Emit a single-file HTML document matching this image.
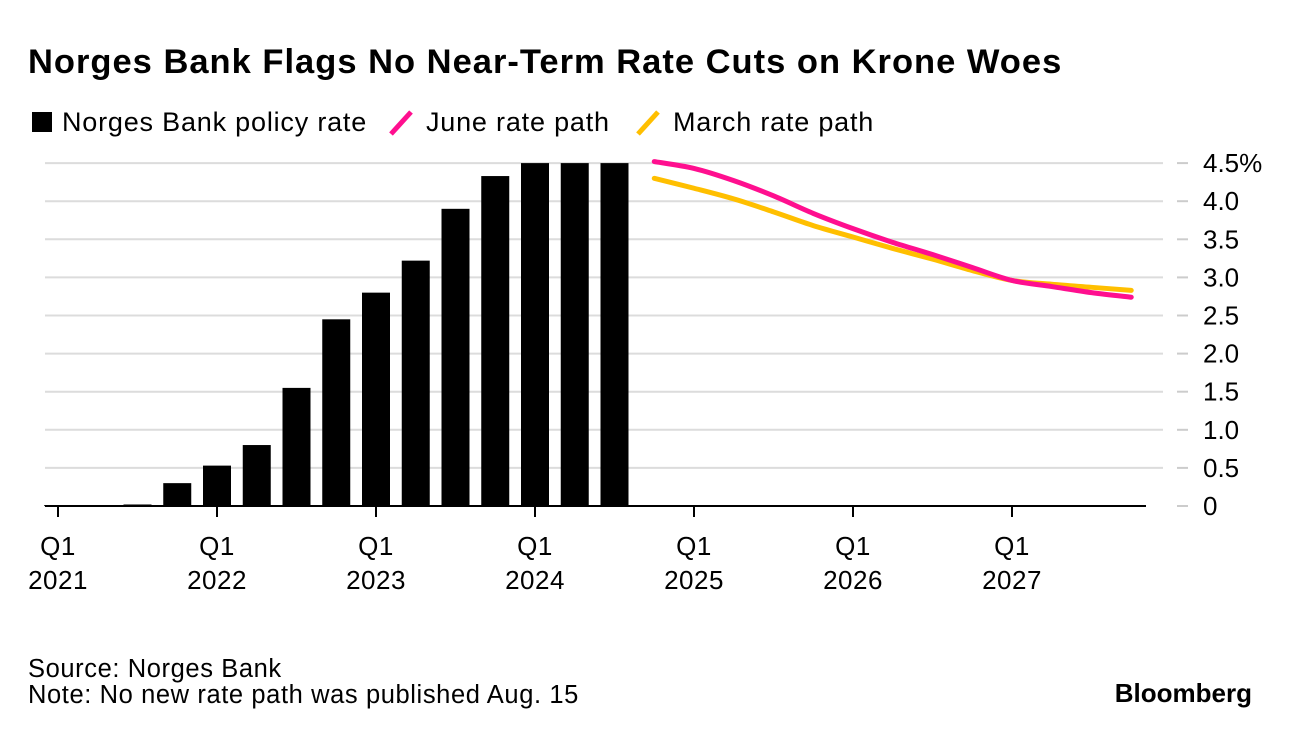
<!DOCTYPE html>
<html><head><meta charset="utf-8"><style>
body{margin:0;background:#fff;width:1292px;height:738px;overflow:hidden;font-family:"Liberation Sans",sans-serif;}
svg{position:absolute;left:0;top:0}
</style></head><body>
<svg width="1292" height="738">
<text x="28" y="73" font-size="34.5" font-weight="bold" letter-spacing="1" fill="#000">Norges Bank Flags No Near-Term Rate Cuts on Krone Woes</text>
<g font-size="27" letter-spacing="0.8" fill="#000">
<rect x="32" y="112" width="20" height="20" fill="#000"/>
<text x="62" y="131">Norges Bank policy rate</text>
<line x1="391" y1="134" x2="411" y2="112" stroke="#ff0f8f" stroke-width="5"/>
<text x="426" y="131">June rate path</text>
<line x1="638" y1="134" x2="658" y2="112" stroke="#ffbf00" stroke-width="5"/>
<text x="673" y="131">March rate path</text>
</g>
<g id="grid"></g><g id="bars"></g><g id="lines"></g><g id="axes"></g>
<text x="28" y="677" font-size="25.5" letter-spacing="0.6">Source: Norges Bank</text>
<text x="28" y="703" font-size="25.5" letter-spacing="0.6">Note: No new rate path was published Aug. 15</text>
<text x="1252" y="702" font-size="26" font-weight="bold" text-anchor="end">Bloomberg</text>
</svg>
<script>
const yTicks=[0,0.5,1,1.5,2,2.5,3,3.5,4,4.5];
const yTickLabels=["0","0.5","1.0","1.5","2.0","2.5","3.0","3.5","4.0","4.5%"];
const barValues=[0.01,0.01,0.02,0.3,0.53,0.8,1.55,2.45,2.8,3.22,3.9,4.33,4.5,4.5,4.5];
const juneValues=[4.52,4.43,4.27,4.07,3.84,3.64,3.46,3.30,3.13,2.96,2.88,2.80,2.74];
const marchValues=[4.30,4.17,4.03,3.86,3.68,3.53,3.38,3.24,3.09,2.96,2.91,2.87,2.83];
const pathStartQuarter=15;
const xTickQuarters=[0,4,8,12,16,20,24];
const xTickYears=["2021","2022","2023","2024","2025","2026","2027"];
const NS="http://www.w3.org/2000/svg";
const X=q=>58+q*39.75;
const Y=v=>506-v*76.2;
function mk(tag,attrs,parent){const e=document.createElementNS(NS,tag);for(const k in attrs)e.setAttribute(k,attrs[k]);document.getElementById(parent).appendChild(e);return e;}
yTicks.forEach((t,i)=>{
 if(t>0){const g=mk('line',{x1:45,x2:1163,y1:Y(t),y2:Y(t),stroke:'#dcdcdc','stroke-width':2},'grid');
 
 }
 const d=mk('line',{x1:1177,x2:1188,y1:Y(t),y2:Y(t),stroke:'#ccc','stroke-width':2},'grid');
 
 
 const l=mk('text',{x:1203,y:Y(t)+9,'font-size':26,fill:'#000'},'grid');l.textContent=yTickLabels[i];
 
 
});
barValues.forEach((v,i)=>{
 const b=mk('rect',{x:X(i)-14,y:Y(v),width:28,height:Math.max(506-Y(v),0.8),fill:'#000'},'bars');
 
 
});
function line(vals,col,name){
 const pts=vals.map((v,i)=>[X(pathStartQuarter+i),Y(v)]);
 let d='M'+pts[0];
 for(let i=1;i<pts.length;i++){const p0=pts[i-2]||pts[i-1],p1=pts[i-1],p2=pts[i],p3=pts[i+1]||p2;
  d+=' C'+(p1[0]+(p2[0]-p0[0])/6)+','+(p1[1]+(p2[1]-p0[1])/6)+' '+(p2[0]-(p3[0]-p1[0])/6)+','+(p2[1]-(p3[1]-p1[1])/6)+' '+p2;}
 const e=mk('path',{d:d,fill:'none',stroke:col,'stroke-width':5,'stroke-linecap':'round'},'lines');
 
 
}
line(marchValues,'#ffbf00','march-rate-path');
line(juneValues,'#ff0f8f','june-rate-path');
const ax=mk('line',{x1:45,x2:1146,y1:506,y2:506,stroke:'#000','stroke-width':2},'axes');


xTickQuarters.forEach((q,i)=>{
 const t=mk('line',{x1:X(q),x2:X(q),y1:506,y2:517,stroke:'#000','stroke-width':2},'axes');
 
 
 const a=mk('text',{x:X(q),y:555,'font-size':26,'letter-spacing':0.5,'text-anchor':'middle'},'axes');a.textContent='Q1';
 
 
 const b=mk('text',{x:X(q),y:589,'font-size':26,'letter-spacing':0.5,'text-anchor':'middle'},'axes');b.textContent=xTickYears[i];
 
 
});
</script>
</body></html>
